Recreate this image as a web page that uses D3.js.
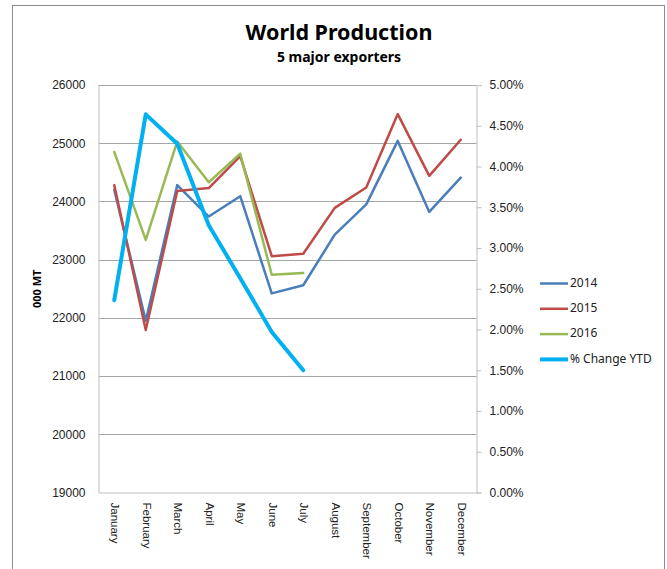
<!DOCTYPE html>
<html>
<head>
<meta charset="utf-8">
<script src="https://cdn.jsdelivr.net/npm/d3@7"></script>
<style>
  body { margin: 0; background: #fff; }
  svg { font-family: 'Noto Sans', sans-serif; }
</style>
</head>
<body>
<div id="chart"></div>
<script>
const months = ['January', 'February', 'March', 'April', 'May', 'June', 'July',
  'August', 'September', 'October', 'November', 'December'];
const v2014 = [24200, 21950, 24280, 23740, 24090, 22420, 22560, 23430, 23950, 25040, 23820, 24410];
const v2015 = [24280, 21790, 24180, 24230, 24780, 23060, 23100, 23890, 24240, 25500, 24440, 25060];
const v2016 = [24850, 23340, 25030, 24330, 24820, 22740, 22770];
const pctChange = [2.36, 4.64, 4.28, 3.28, 2.63, 1.97, 1.50];
const leftTicks = [19000, 20000, 21000, 22000, 23000, 24000, 25000, 26000];
const rightTicks = [0, 0.5, 1, 1.5, 2, 2.5, 3, 3.5, 4, 4.5, 5];

const series = [
  { name: '2014', values: v2014, color: '#4A7EBB', width: 2.5, axis: 'left' },
  { name: '2015', values: v2015, color: '#BE4B48', width: 2.5, axis: 'left' },
  { name: '2016', values: v2016, color: '#98B954', width: 2.5, axis: 'left' },
  { name: '% Change YTD', values: pctChange, color: '#00B0F0', width: 4, axis: 'right' }
];

const W = 667, H = 569;
const plot = { left: 98.5, right: 476.5, top: 85, bottom: 492.5 };

const svg = d3.select('#chart').append('svg')
  .attr('width', W)
  .attr('height', H);

// outer chart border
svg.append('rect')
  .attr('x', 12.5).attr('y', 5.5)
  .attr('width', 652).attr('height', 580)
  .attr('fill', 'none')
  .attr('stroke', '#8c8c8c')
  .attr('stroke-width', 1);

const x = d3.scaleBand()
  .domain(months)
  .range([plot.left, plot.right]);
const cx = m => x(m) + x.bandwidth() / 2;

const y = d3.scaleLinear()
  .domain([19000, 26000])
  .range([plot.bottom, plot.top]);

const y2 = d3.scaleLinear()
  .domain([0, 5])
  .range([plot.bottom, plot.top]);

// gridlines
svg.append('g')
  .selectAll('line')
  .data(leftTicks.slice(1))
  .enter().append('line')
  .attr('x1', plot.left).attr('x2', plot.right)
  .attr('y1', d => Math.round(y(d)) + 0.5)
  .attr('y2', d => Math.round(y(d)) + 0.5)
  .attr('stroke', '#a6a6a6')
  .attr('stroke-width', 1);

// left axis
const yAxis = svg.append('g')
  .attr('transform', 'translate(' + plot.left + ',0)')
  .call(d3.axisLeft(y).tickValues(leftTicks).tickSize(0).tickPadding(13).tickFormat(d3.format('d')));
yAxis.select('.domain').attr('stroke', '#bfbfbf');
yAxis.selectAll('text')
  .style('font-size', '12px')
  .attr('fill', '#222');

// right axis
const y2Axis = svg.append('g')
  .attr('transform', 'translate(' + plot.right + ',0)')
  .call(d3.axisRight(y2).tickValues(rightTicks).tickSize(5).tickPadding(8)
    .tickFormat(d => d3.format('.2f')(d) + '%'));
y2Axis.select('.domain').attr('stroke', '#bfbfbf');
y2Axis.selectAll('line').attr('stroke', '#bfbfbf');
y2Axis.selectAll('text')
  .style('font-size', '12px')
  .attr('fill', '#222');

// bottom axis
const xAxis = svg.append('g')
  .attr('transform', 'translate(0,' + plot.bottom + ')')
  .call(d3.axisBottom(x).tickSize(0));
xAxis.select('.domain').attr('stroke', '#bfbfbf');
xAxis.selectAll('text')
  .style('font-size', '11.5px')
  .attr('fill', '#222')
  .attr('text-anchor', 'start')
  .attr('dominant-baseline', 'middle')
  .attr('dy', null)
  .attr('y', 0)
  .attr('transform', 'translate(0,10) rotate(90)');

// lines
series.forEach(s => {
  const scale = s.axis === 'left' ? y : y2;
  const line = d3.line()
    .x((d, i) => cx(months[i]))
    .y(d => scale(d));
  svg.append('path')
    .datum(s.values)
    .attr('d', line)
    .attr('fill', 'none')
    .attr('stroke', s.color)
    .attr('stroke-width', s.width)
    .attr('stroke-linejoin', 'round')
    .attr('stroke-linecap', 'round');
});

// titles
svg.append('text')
  .attr('x', 339).attr('y', 40)
  .attr('text-anchor', 'middle')
  .style('font-size', '21.5px')
  .style('font-weight', 'bold')
  .text('World Production');

svg.append('text')
  .attr('x', 339).attr('y', 62)
  .attr('text-anchor', 'middle')
  .style('font-size', '14px')
  .style('font-weight', 'bold')
  .text('5 major exporters');

// y-axis label
svg.append('text')
  .attr('transform', 'translate(41,' + ((plot.top + plot.bottom) / 2) + ') rotate(-90)')
  .attr('text-anchor', 'middle')
  .style('font-size', '11px')
  .style('font-weight', 'bold')
  .text('000 MT');

// legend
const legend = svg.append('g');
series.forEach((s, i) => {
  const ly = 283.5 + i * 25.3;
  legend.append('line')
    .attr('x1', 540).attr('x2', 568)
    .attr('y1', ly).attr('y2', ly)
    .attr('stroke', s.color)
    .attr('stroke-width', s.width);
  legend.append('text')
    .attr('x', 570).attr('y', ly)
    .attr('dominant-baseline', 'middle')
    .style('font-size', '12px')
    .attr('fill', '#222')
    .text(s.name);
});
</script>
</body>
</html>
